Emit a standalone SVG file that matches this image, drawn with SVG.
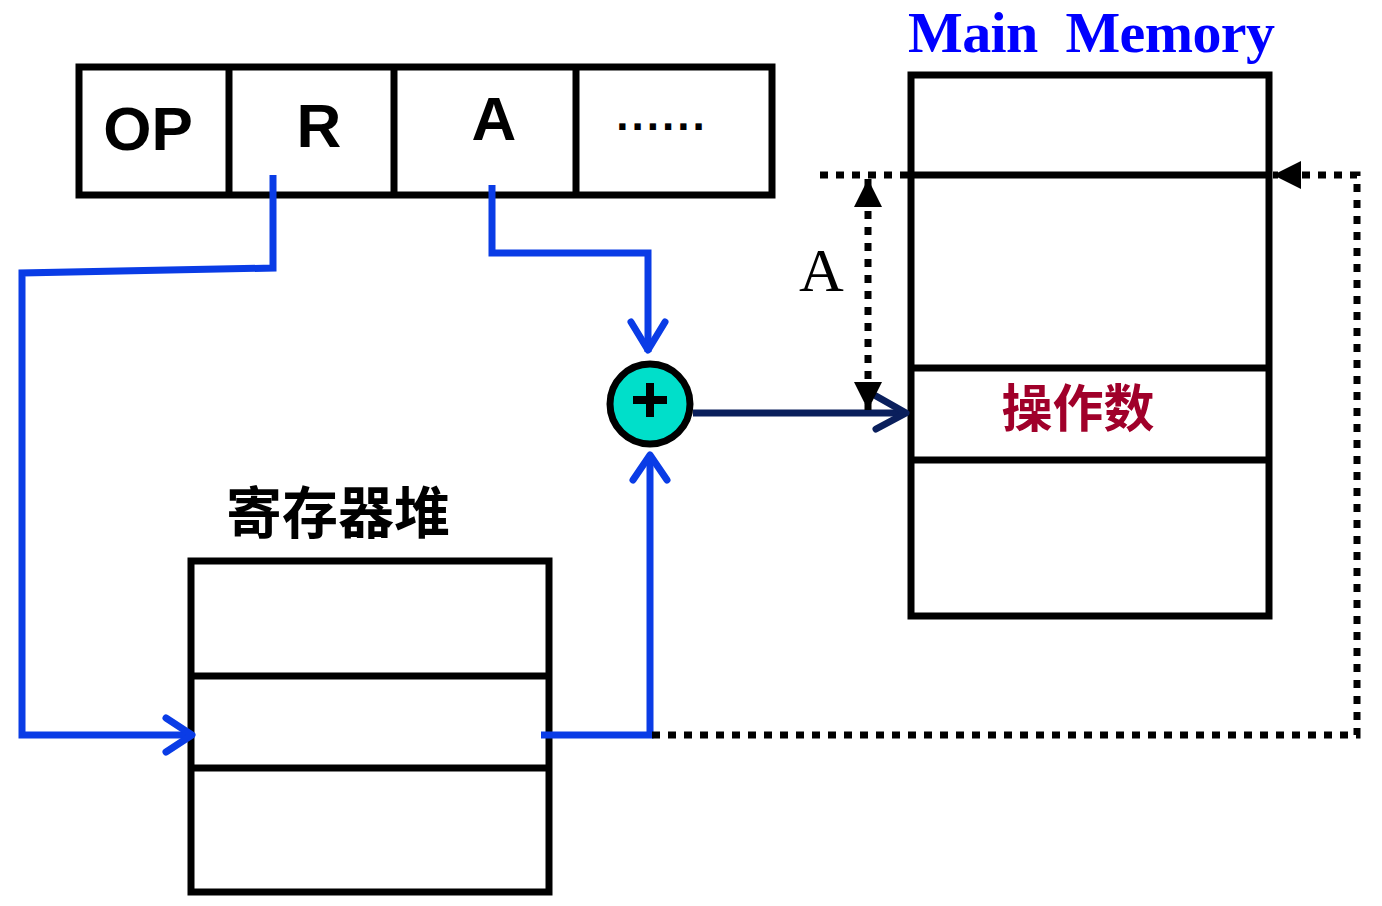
<svg xmlns="http://www.w3.org/2000/svg" width="1382" height="906" viewBox="0 0 1382 906">
<defs>
<style>
.box{fill:#fff;stroke:#000;stroke-width:7}
.ln{stroke:#000;stroke-width:7;fill:none}
.blue{stroke:#0a3ce6;stroke-width:7;fill:none}
.navy{stroke:#0a1f5c;stroke-width:7;fill:none}
.dot{stroke:#000;stroke-width:7;fill:none;stroke-dasharray:8 8}
.sans{font-family:"Liberation Sans",Arial,sans-serif;font-weight:bold}
.serif{font-family:"Liberation Serif","Times New Roman",serif}
.cjk{font-family:"Noto Sans CJK SC","Noto Sans CJK JP",sans-serif;font-weight:bold}
</style>
<marker id="tri" viewBox="0 0 10 10" refX="10" refY="5" markerWidth="4" markerHeight="4" orient="auto-start-reverse" markerUnits="strokeWidth">
<path d="M0,0 L10,5 L0,10 Z" fill="#000"/>
</marker>
</defs>
<g id="instruction">
<rect class="box" x="79" y="67" width="693" height="128"/>
<line class="ln" x1="229" y1="67" x2="229" y2="195"/>
<line class="ln" x1="394" y1="67" x2="394" y2="195"/>
<line class="ln" x1="576" y1="67" x2="576" y2="195"/>
<text class="sans" x="148" y="150" font-size="62" text-anchor="middle">OP</text>
<text class="sans" x="319" y="147" font-size="62" text-anchor="middle">R</text>
<text class="sans" x="494" y="140" font-size="62" text-anchor="middle">A</text>
<text class="sans" x="662" y="130" font-size="44" letter-spacing="3" text-anchor="middle">......</text>
</g>
<g id="registers">
<text class="cjk" x="338" y="533" font-size="56" text-anchor="middle">寄存器堆</text>
<rect class="box" x="191" y="561" width="358" height="331"/>
<line class="ln" x1="191" y1="676" x2="549" y2="676"/>
<line class="ln" x1="191" y1="768" x2="549" y2="768"/>
</g>
<g id="memory">
<text class="serif" x="908" y="52" font-size="58" font-weight="bold" fill="#0000ff" textLength="367" lengthAdjust="spacing" xml:space="preserve">Main  Memory</text>
<rect class="box" x="911" y="75" width="358" height="541"/>
<line class="ln" x1="911" y1="175" x2="1269" y2="175"/>
<line class="ln" x1="911" y1="368" x2="1269" y2="368"/>
<line class="ln" x1="911" y1="460" x2="1269" y2="460"/>
<text class="cjk" x="1078" y="427" font-size="51" fill="#a0002a" text-anchor="middle">操作数</text>
</g>
<g id="adder">
<circle cx="650" cy="404" r="40" fill="#00dfca" stroke="#000" stroke-width="7"/>
<path d="M633,400 H667 M650,383 V417" stroke="#000" stroke-width="8"/>
</g>
<g id="connectors">
<path class="blue" d="M273,175 V268 L22,273 V735 H192"/>
<path class="blue" d="M166,718 L192,735 L166,752" stroke-linecap="round" stroke-linejoin="round"/>
<path class="blue" d="M492,185 V253 H648 V352"/>
<path class="blue" d="M631,322 L648,350 L665,322" stroke-linecap="round" stroke-linejoin="round"/>
<path class="blue" d="M541,735 H650 V455"/>
<path class="blue" d="M633,480 L650,455 L667,480" stroke-linecap="round" stroke-linejoin="round"/>
<path class="navy" d="M693,413 H906"/>
<path class="navy" d="M876,396 L906,413 L876,429" stroke-linecap="round" stroke-linejoin="round"/>
<line class="dot" x1="820" y1="175" x2="908" y2="175"/>
<line class="dot" x1="868" y1="179" x2="868" y2="410" marker-start="url(#tri)" marker-end="url(#tri)"/>
<text class="serif" x="799" y="291" font-size="62">A</text>
<path class="dot" d="M652,735 H1357 V175 H1273" marker-end="url(#tri)"/>
</g>
</svg>
